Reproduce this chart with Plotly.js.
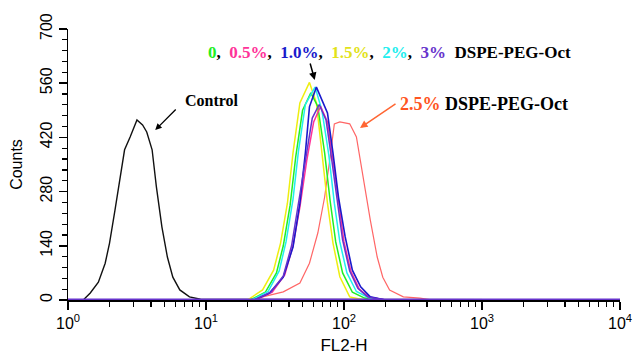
<!DOCTYPE html>
<html>
<head>
<meta charset="utf-8">
<script src="https://cdn.plot.ly/plotly-3.0.1.min.js"></script>
<style>html,body{margin:0;padding:0;background:#fff;}#chart{width:633px;height:356px;}</style>
</head>
<body>
<div id="chart"></div>
<script>
// FL2-H fluorescence (linear values, log axis) and counts for each sample
const controlX = [1, 1.29, 1.45, 1.66, 1.86, 2.0, 2.19, 2.40, 2.57, 2.82, 3.16, 3.47, 3.72, 4.07, 4.37, 4.79, 5.25, 5.75, 6.46, 7.59, 9.12, 10000];
const controlY = [0, 0, 18, 46, 95, 147, 232, 318, 388, 421, 465, 452, 434, 388, 292, 189, 111, 59, 26, 8, 2, 0];

const redX = [1, 20, 25.7, 36.3, 47.9, 56.2, 64.6, 72.4, 79.4, 85.1, 93.3, 110, 123, 138, 155, 174, 191, 214, 269, 355, 437, 10000];
const redY = [0, 0, 8, 21, 44, 95, 173, 266, 370, 455, 460, 455, 421, 310, 207, 111, 59, 26, 8, 5, 0, 0];

const yellowX = [1, 20, 25.7, 30.9, 34.7, 38.9, 42.7, 47.9, 56.2, 63.1, 69.2, 75.9, 83.2, 93.3, 110, 141, 10000];
const yellowY = [0, 0, 26, 77, 147, 250, 380, 509, 562, 509, 380, 250, 147, 60, 8, 0, 0];

const greenX = [1, 20.9, 26.9, 32.4, 36.3, 40.7, 44.7, 50.1, 57.5, 64.6, 72.4, 79.4, 87.1, 97.7, 115, 141, 178, 10000];
const greenY = [0, 0, 20, 70, 140, 245, 370, 490, 535, 500, 380, 255, 150, 70, 20, 5, 0, 0];

const cyanX = [1, 21.4, 28.2, 33.9, 38.0, 42.7, 46.8, 52.5, 61.7, 69.2, 77.6, 85.1, 93.3, 105, 123, 151, 200, 10000];
const cyanY = [0, 0, 22, 75, 150, 260, 385, 505, 550, 490, 375, 250, 150, 70, 22, 6, 0, 0];

const pinkX = [1, 22.9, 30.2, 37.2, 42.7, 47.9, 53.7, 60.3, 67.6, 75.9, 83.2, 91.2, 100, 112, 129, 151, 200, 10000];
const pinkY = [0, 0, 20, 65, 140, 240, 360, 460, 500, 460, 360, 250, 150, 75, 28, 8, 0, 0];

const blueX = [1, 22.4, 28.8, 36.3, 42.7, 47.9, 52.5, 56.2, 63.1, 75.9, 83.2, 91.2, 102, 115, 132, 155, 200, 10000];
const blueY = [0, 0, 18, 59, 137, 250, 380, 499, 550, 483, 380, 266, 163, 77, 34, 8, 0, 0];

const purpleX = [1, 22.4, 29.5, 36.3, 41.7, 46.8, 52.5, 58.9, 66.1, 74.1, 81.3, 89.1, 97.7, 110, 126, 148, 200, 10000];
const purpleY = [0, 0, 20, 62, 140, 250, 370, 470, 505, 465, 365, 255, 155, 75, 30, 8, 0, 0];

const xTickVals = [1, 10, 100, 1000, 10000];
const xTickText = ['10<sup>0</sup>', '10<sup>1</sup>', '10<sup>2</sup>', '10<sup>3</sup>', '10<sup>4</sup>'];
const yTickVals = [0, 140, 280, 420, 560, 700];

const minorX = [];
[1, 10, 100, 1000].forEach(d => { for (let k = 2; k <= 9; k++) minorX.push(d * k); });

function tr(x, y, color, w) {
  return {x: x, y: y, type: 'scatter', mode: 'lines', line: {color: color, width: w}, hoverinfo: 'skip'};
}

const data = [
  tr(controlX, controlY, '#111111', 1.4),
  tr(redX, redY, '#ff6666', 1.2),
  tr(yellowX, yellowY, '#eeee11', 1.5),
  tr(greenX, greenY, '#22ee22', 1.5),
  tr(cyanX, cyanY, '#22eeee', 1.5),
  tr(pinkX, pinkY, '#ff3399', 1.5),
  tr(blueX, blueY, '#1a1acc', 1.6),
  tr(purpleX, purpleY, '#6633cc', 1.5)
];

const serif = 'Liberation Serif, Times New Roman, serif';
const sans = 'Liberation Sans Narrow, Arial Narrow, Liberation Sans, Arial, sans-serif';
const sp = '\u00a0';

const layout = {
  width: 633, height: 356,
  margin: {l: 68, r: 13, t: 29, b: 56},
  paper_bgcolor: '#fff', plot_bgcolor: '#fff',
  showlegend: false,
  font: {family: sans, color: '#000', size: 14},
  xaxis: {
    type: 'log', range: [0, 4],
    tickmode: 'array', tickvals: xTickVals, ticktext: xTickText,
    ticks: 'outside', ticklen: 8, tickwidth: 1.5, tickcolor: '#000',
    showline: true, linecolor: '#000', linewidth: 1.5,
    showgrid: false, zeroline: false,
    tickfont: {family: sans, size: 16},
    minor: {tickmode: 'array', tickvals: minorX, ticks: 'outside', ticklen: 5, tickwidth: 1.2, tickcolor: '#000', showgrid: false},
    title: {text: 'FL2-H', font: {family: sans, size: 17}, standoff: 8}
  },
  yaxis: {
    range: [0, 700],
    tickmode: 'array', tickvals: yTickVals,
    ticks: 'outside', ticklen: 8, tickwidth: 1.5, tickcolor: '#000',
    tickangle: -90,
    showline: true, linecolor: '#000', linewidth: 1.5,
    showgrid: false, zeroline: false,
    tickfont: {family: sans, size: 16},
    minor: {dtick: 28, ticks: 'outside', ticklen: 5, tickwidth: 1.2, tickcolor: '#000', showgrid: false},
    title: {text: 'Counts', font: {family: sans, size: 16}, standoff: 11}
  },
  shapes: [
    {type: 'line', xref: 'paper', yref: 'y', x0: 0, x1: 1, y0: 0, y1: 0, line: {color: '#6633cc', width: 3}}
  ],
  annotations: [
    {xref: 'paper', yref: 'paper', x: 0.208, y: 0.738, xanchor: 'left', yanchor: 'middle', text: '<b>Control</b>', showarrow: false,
     font: {family: serif, size: 16, color: '#000'}},
    {xref: 'paper', yref: 'paper', x: 0.158, y: 0.627, text: '', showarrow: true, arrowhead: 2, arrowsize: 1, arrowwidth: 1.3, arrowcolor: '#000', ax: 22, ay: -22},
    {xref: 'paper', yref: 'paper', x: 0.250, y: 0.915, xanchor: 'left', yanchor: 'middle',
     text: '<b><span style="color:#22ee22">0</span>,' + sp + sp + '<span style="color:#ff3399">0.5%</span>,' + sp + sp + '<span style="color:#1a1acc">1.0%</span>,' + sp + sp + '<span style="color:#e2e21a">1.5%</span>,' + sp + sp + '<span style="color:#22eeee">2%</span>,' + sp + sp + '<span style="color:#6633cc">3%</span>' + sp + sp + 'DSPE-PEG-Oct</b>',
     showarrow: false, font: {family: serif, size: 17, color: '#000'}},
    {xref: 'paper', yref: 'paper', x: 0.447, y: 0.812, text: '', showarrow: true, arrowhead: 2, arrowsize: 1, arrowwidth: 1.5, arrowcolor: '#000', ax: -5, ay: -18},
    {xref: 'paper', yref: 'paper', x: 0.598, y: 0.723, xanchor: 'left', yanchor: 'middle',
     text: '<b><span style="color:#ff5522">2.5%</span>' + sp + 'DSPE-PEG-Oct</b>',
     showarrow: false, font: {family: serif, size: 18, color: '#000'}},
    {xref: 'paper', yref: 'paper', x: 0.529, y: 0.635, text: '', showarrow: true, arrowhead: 2, arrowsize: 1, arrowwidth: 1.5, arrowcolor: '#ff6633', ax: 37, ay: -25}
  ]
};

Plotly.newPlot('chart', data, layout, {staticPlot: true, displayModeBar: false});
</script>
</body>
</html>
